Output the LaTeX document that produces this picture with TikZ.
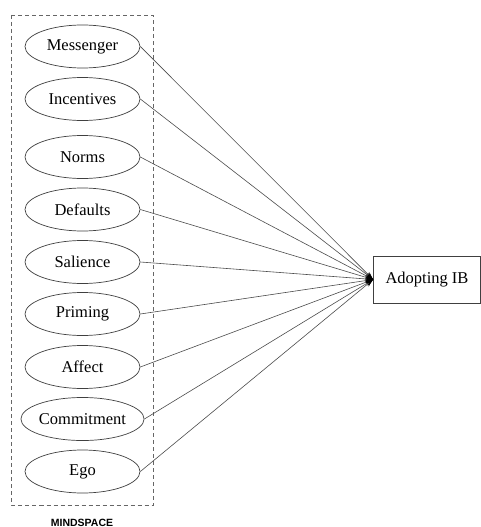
\documentclass[tikz,border=0pt]{standalone}
\usepackage{fontspec}
\setmainfont{Liberation Serif}
\newfontfamily\labelfont{Liberation Sans}
\usetikzlibrary{shapes.geometric,arrows.meta}
\begin{document}
\begin{tikzpicture}[x=1pt,y=-1pt,
  factor/.style={ellipse,draw=black!75,line width=0.7pt,minimum width=115pt,minimum height=43pt,inner sep=0pt,font=\fontsize{16.5}{19}\selectfont},
  target/.style={rectangle,draw=black!75,line width=0.7pt,minimum width=107pt,minimum height=47pt,inner sep=0pt,font=\fontsize{16.5}{19}\selectfont},
  link/.style={draw=black!70,line width=0.6pt,-{Stealth[length=8pt,width=5pt,black]}},
  group/.style={draw=black!60,line width=0.8pt,dash pattern=on 4pt off 3pt}]
\useasboundingbox (0,0) rectangle (481,527);
\fill[white] (0,0) rectangle (481,527);
\draw[group] (11.5,15) rectangle (153,505);
\node[factor] (m) at (82.5,46.5) {Messenger};
\node[factor] (i) at (82.5,99) {Incentives};
\node[factor] (n) at (82.5,157) {Norms};
\node[factor] (d) at (82.5,209.5) {Defaults};
\node[factor] (s) at (82.5,262) {Salience};
\node[factor] (p) at (82.5,314) {Priming};
\node[factor] (a) at (82.5,367) {Affect};
\node[factor] (c) at (82.5,419) {Commitment};
\node[factor] (e) at (82.5,471.5) {Ego};
\node[target] (ib) at (427,279.5) {Adopting IB};
\foreach \k in {m,i,n,d,s,p,a,c,e}{
  \draw[link] (\k.east) -- (ib.west);
}
\node[font=\labelfont\bfseries\fontsize{10.5}{12}\selectfont,anchor=base] (ms) at (82,526) {MINDSPACE};
\end{tikzpicture}
\end{document}
